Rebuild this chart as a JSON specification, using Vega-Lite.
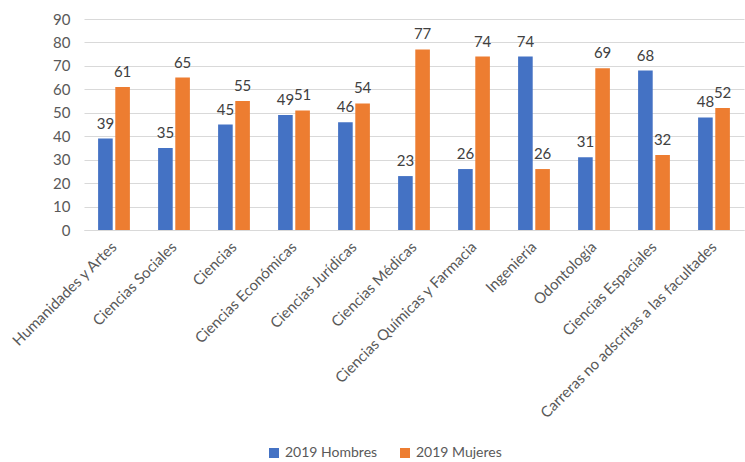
{
  "$schema": "https://vega.github.io/schema/vega-lite/v6.json",
  "width": 660,
  "height": 211,
  "autosize": {"type": "none"},
  "padding": {"left": 84, "top": 19, "right": 1, "bottom": 232},
  "background": "white",
  "config": {
    "font": "Lato",
    "view": {"stroke": null},
    "axis": {"labelColor": "#595959", "labelFontSize": 15, "labelFont": "Lato"}
  },
  "data": {
    "values": [
      {"cat": "Humanidades y Artes", "serie": "2019 Hombres", "v": 39},
      {"cat": "Humanidades y Artes", "serie": "2019 Mujeres", "v": 61},
      {"cat": "Ciencias Sociales", "serie": "2019 Hombres", "v": 35},
      {"cat": "Ciencias Sociales", "serie": "2019 Mujeres", "v": 65},
      {"cat": "Ciencias", "serie": "2019 Hombres", "v": 45},
      {"cat": "Ciencias", "serie": "2019 Mujeres", "v": 55},
      {"cat": "Ciencias Económicas", "serie": "2019 Hombres", "v": 49},
      {"cat": "Ciencias Económicas", "serie": "2019 Mujeres", "v": 51},
      {"cat": "Ciencias Jurídicas", "serie": "2019 Hombres", "v": 46},
      {"cat": "Ciencias Jurídicas", "serie": "2019 Mujeres", "v": 54},
      {"cat": "Ciencias Médicas", "serie": "2019 Hombres", "v": 23},
      {"cat": "Ciencias Médicas", "serie": "2019 Mujeres", "v": 77},
      {"cat": "Ciencias Químicas y Farmacia", "serie": "2019 Hombres", "v": 26},
      {"cat": "Ciencias Químicas y Farmacia", "serie": "2019 Mujeres", "v": 74},
      {"cat": "Ingeniería", "serie": "2019 Hombres", "v": 74},
      {"cat": "Ingeniería", "serie": "2019 Mujeres", "v": 26},
      {"cat": "Odontología", "serie": "2019 Hombres", "v": 31},
      {"cat": "Odontología", "serie": "2019 Mujeres", "v": 69},
      {"cat": "Ciencias Espaciales", "serie": "2019 Hombres", "v": 68},
      {"cat": "Ciencias Espaciales", "serie": "2019 Mujeres", "v": 32},
      {"cat": "Carreras no adscritas a las facultades", "serie": "2019 Hombres", "v": 48},
      {"cat": "Carreras no adscritas a las facultades", "serie": "2019 Mujeres", "v": 52}
    ]
  },
  "encoding": {
    "x": {
      "field": "cat", "type": "nominal", "sort": null, "title": null,
      "scale": {"paddingInner": 0.47, "paddingOuter": 0.235},
      "axis": {"labelAngle": -45, "labelAlign": "right", "labelBaseline": "middle", "labelPadding": 14, "ticks": false, "domainColor": "#d9d9d9", "domainWidth": 1, "grid": false, "labelLimit": 400, "labelFontSize": 15}
    },
    "xOffset": {"field": "serie", "type": "nominal", "scale": {"paddingInner": 0.15}},
    "y": {
      "field": "v", "type": "quantitative", "title": null,
      "scale": {"domain": [0, 90], "nice": false},
      "axis": {"values": [0,10,20,30,40,50,60,70,80,90], "domain": false, "ticks": false, "gridColor": "#d9d9d9", "gridWidth": 1, "labelPadding": 14}
    }
  },
  "layer": [
    {
      "mark": {"type": "bar"},
      "encoding": {
        "color": {
          "field": "serie", "type": "nominal",
          "scale": {"domain": ["2019 Hombres", "2019 Mujeres"], "range": ["#4472C4", "#ED7D31"]},
          "legend": {"title": null, "orient": "none", "direction": "horizontal", "legendX": 183, "legendY": 427, "symbolType": "square", "symbolSize": 100, "symbolStrokeWidth": 0, "labelFontSize": 14, "labelColor": "#595959", "columnPadding": 20, "labelOffset": 4}
        }
      }
    },
    {
      "mark": {"type": "text", "baseline": "bottom", "dy": -7, "fontSize": 15, "color": "#404040"},
      "encoding": {"text": {"field": "v", "type": "quantitative"}}
    }
  ]
}
